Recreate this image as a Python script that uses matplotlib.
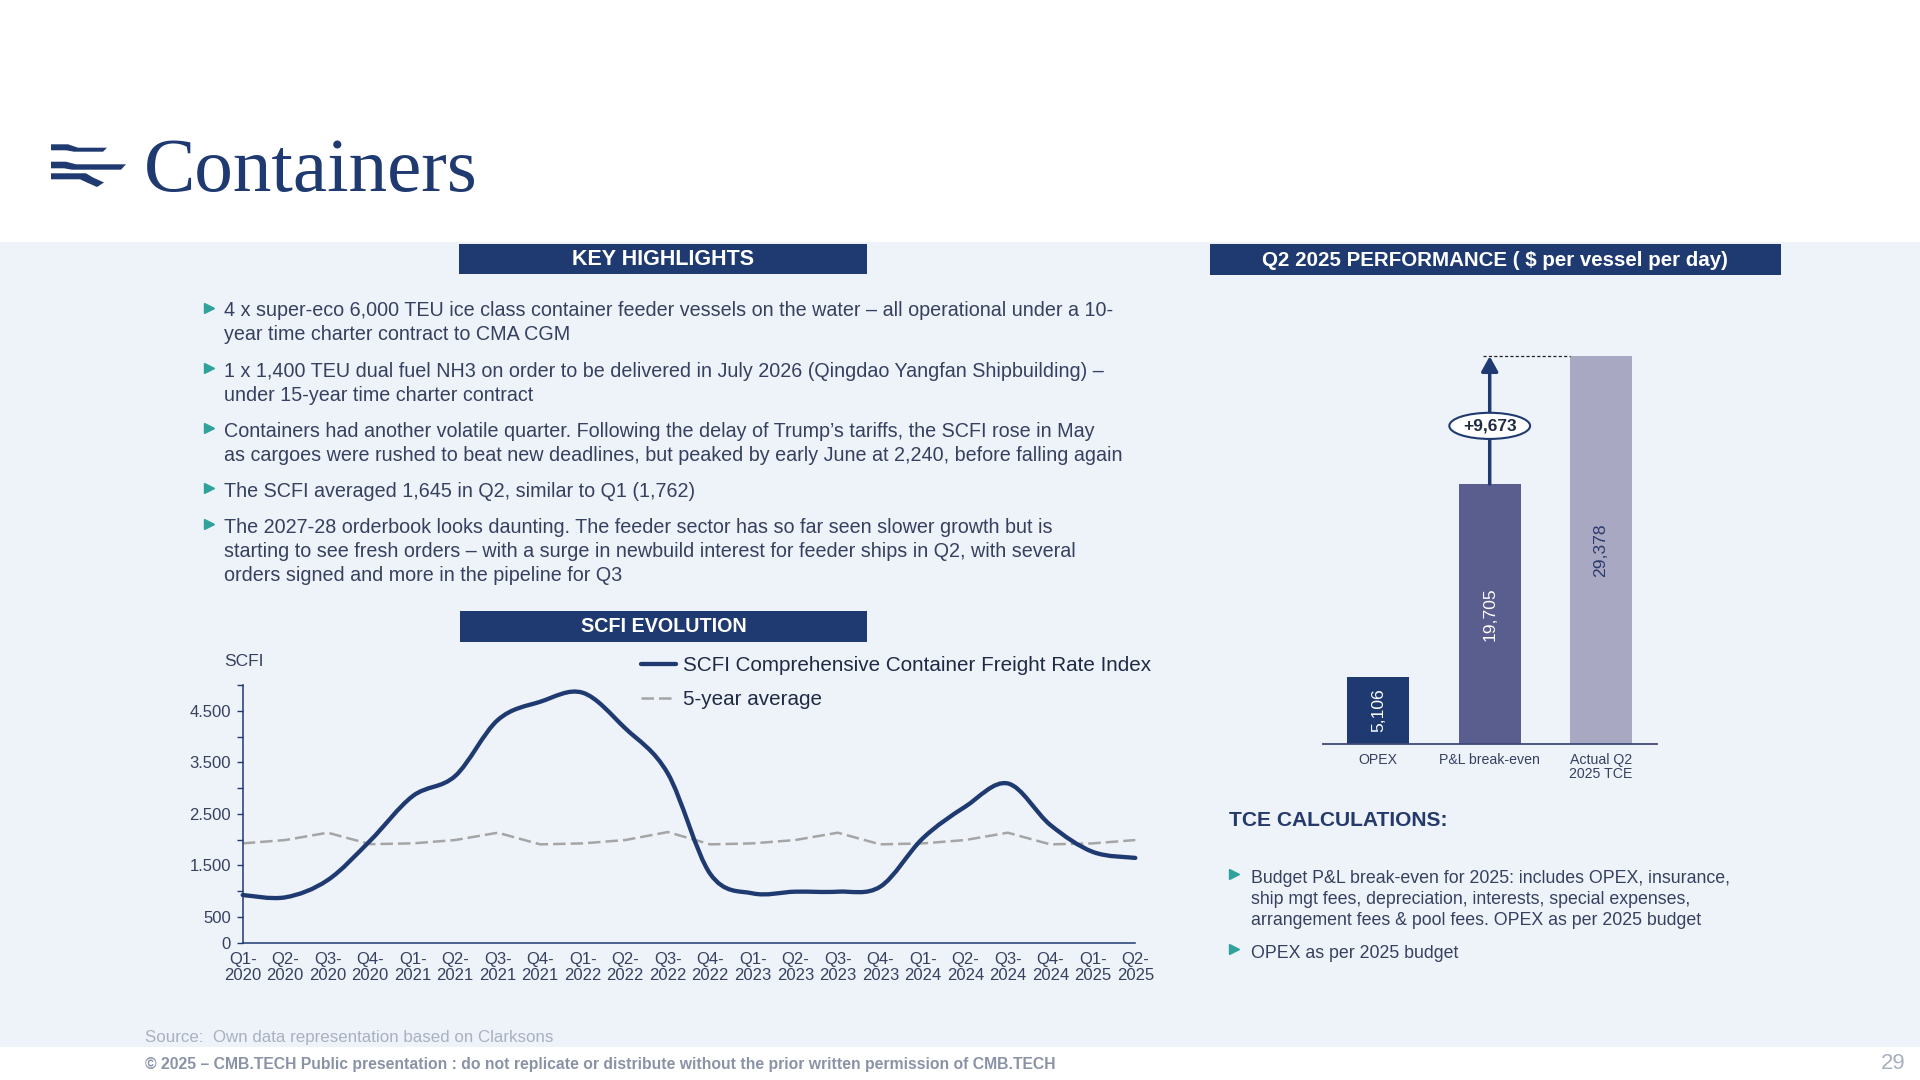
import matplotlib
matplotlib.use("Agg")
import matplotlib.pyplot as plt
from matplotlib.patches import Rectangle, Polygon, PathPatch
from matplotlib.path import Path
from matplotlib.lines import Line2D

plt.rcParams['font.family'] = ['Liberation Sans', 'DejaVu Sans']

# ---------------- data ----------------
quarter_labels = ["Q1-\n2020", "Q2-\n2020", "Q3-\n2020", "Q4-\n2020",
                  "Q1-\n2021", "Q2-\n2021", "Q3-\n2021", "Q4-\n2021",
                  "Q1-\n2022", "Q2-\n2022", "Q3-\n2022", "Q4-\n2022",
                  "Q1-\n2023", "Q2-\n2023", "Q3-\n2023", "Q4-\n2023",
                  "Q1-\n2024", "Q2-\n2024", "Q3-\n2024", "Q4-\n2024",
                  "Q1-\n2025", "Q2-\n2025"]
scfi_index = [925, 880, 1215, 1980, 2845, 3235, 4320, 4675, 4850, 4160, 3285,
              1335, 957, 990, 990, 1087, 2025, 2640, 3090, 2285, 1762, 1645]
five_year_avg = [1927, 1992, 2134, 1912, 1927, 1992, 2134, 1908, 1927, 1992, 2147,
                 1908, 1927, 1992, 2134, 1908, 1927, 1992, 2134, 1908, 1927, 1992]
scfi_ticks = [0, 500, 1000, 1500, 2000, 2500, 3000, 3500, 4000, 4500, 5000]
scfi_labelled_ticks = [0, 500, 1500, 2500, 3500, 4500]
series_names = ["SCFI Comprehensive Container Freight Rate Index", "5-year average"]

perf_categories = ["OPEX", "P&L break-even", "Actual Q2\n2025 TCE"]
perf_values = [5106, 19705, 29378]
perf_value_labels = ["5,106", "19,705", "29,378"]
perf_delta_label = "+9,673"

highlights = [
    ["4 x super-eco 6,000 TEU ice class container feeder vessels on the water \u2013 all operational under a 10-",
     "year time charter contract to CMA CGM"],
    ["1 x 1,400 TEU dual fuel NH3 on order to be delivered in July 2026 (Qingdao Yangfan Shipbuilding) \u2013",
     "under 15-year time charter contract"],
    ["Containers had another volatile quarter. Following the delay of Trump\u2019s tariffs, the SCFI rose in May",
     "as cargoes were rushed to beat new deadlines, but peaked by early June at 2,240, before falling again"],
    ["The SCFI averaged 1,645 in Q2, similar to Q1 (1,762)"],
    ["The 2027-28 orderbook looks daunting. The feeder sector has so far seen slower growth but is",
     "starting to see fresh orders \u2013 with a surge in newbuild interest for feeder ships in Q2, with several",
     "orders signed and more in the pipeline for Q3"],
]
tce_notes = [
    ["Budget P&L break-even for 2025: includes OPEX, insurance,",
     "ship mgt fees, depreciation, interests, special expenses,",
     "arrangement fees & pool fees. OPEX as per 2025 budget"],
    ["OPEX as per 2025 budget"],
]

# ---------------- style ----------------
NAVY = '#1F3A70'
LIGHT = '#EEF2F9'
TEAL = '#2FA39B'
TEXT = '#36415F'
DARK = '#1F2A44'
BAR_COLORS = ['#1F3A70', '#5A5E8E', '#A9A8C3']
LABEL_COLORS = ['white', 'white', '#2B3A6B']
DASH = '#A5A5A5'

W, H = 1920, 1080
fig = plt.figure(figsize=(19.2, 10.8), dpi=100)
fig.patch.set_facecolor('white')
bg = fig.add_axes([0, 0, 1, 1])
bg.set_xlim(0, W)
bg.set_ylim(H, 0)
bg.axis('off')

bg.add_patch(Rectangle((0, 242), W, 805, color=LIGHT, zorder=0, lw=0))

# logo + title
logo = [
    [(51, 144.3), (68, 144.3), (78, 147.7), (107, 147.7), (103, 151.7), (74, 151.7), (66, 150.3), (51, 150.3)],
    [(51, 161.7), (66, 161.7), (76, 164.3), (126, 164.3), (121, 169.7), (72, 169.7), (64, 168.3), (51, 168.3)],
    [(51, 173.3), (86, 173.3), (93, 177.5), (104, 182.5), (97, 187), (88, 183), (80, 179.3), (51, 179.3)],
]
for poly in logo:
    bg.add_patch(Polygon(poly, closed=True, color=NAVY, lw=0))
bg.text(144, 191, "Containers", family=['Liberation Serif', 'DejaVu Serif'], fontsize=55.5,
        color=NAVY, ha='left', va='baseline')


def header(x0, x1, y0, y1, text, size):
    bg.add_patch(Rectangle((x0, y0), x1 - x0, y1 - y0, color=NAVY, lw=0))
    bg.text((x0 + x1) / 2, (y0 + y1) / 2 + 1, text, color='white', fontweight='bold',
            fontsize=size, ha='center', va='center')


header(459, 867, 244, 273.5, "KEY HIGHLIGHTS", 15.5)
header(1209.5, 1780.5, 243.5, 274.5, "Q2 2025 PERFORMANCE ( $ per vessel per day)", 14.8)
header(460, 867, 610.5, 641.5, "SCFI EVOLUTION", 14.2)


def bullets(paragraphs, x_text, x_bullet, baselines, size):
    k = 0
    for para in paragraphs:
        for j, line in enumerate(para):
            yb = baselines[k]
            if j == 0:
                bg.plot([x_bullet], [yb - 9], marker='>', ms=6.5, color=TEAL, mec=TEAL)
            bg.text(x_text, yb, line, fontsize=size, color=TEXT, ha='left', va='baseline')
            k += 1


bullets(highlights, 224, 209, [316.5, 340.5, 377, 401, 437, 461, 497, 533, 557, 581], 14.25)

bg.text(1229, 826, "TCE CALCULATIONS:", fontsize=15.1, fontweight='bold', color='#243A6B',
        ha='left', va='baseline')
bullets(tce_notes, 1251, 1234, [882.7, 904, 925, 958.3], 12.8)

bg.text(145, 1042, "Source:  Own data representation based on Clarksons", fontsize=12.2,
        color='#A9B0C0', ha='left', va='baseline')
bg.text(145, 1069, "\u00a9 2025 \u2013 CMB.TECH Public presentation : do not replicate or distribute without "
        "the prior written permission of CMB.TECH", fontsize=11.3, fontweight='bold',
        color='#8A93A6', ha='left', va='baseline')
bg.text(1905, 1069, "29", fontsize=16, color='#A9B0C0', ha='right', va='baseline')


def fig_rect(x0, x1, ytop, ybot):
    return [x0 / W, 1 - ybot / H, (x1 - x0) / W, (ybot - ytop) / H]


# ---------------- SCFI line chart ----------------
ax = fig.add_axes(fig_rect(242.7, 1135.3, 685, 942.7))
ax.patch.set_alpha(0)
xs = list(range(len(quarter_labels)))
ax.set_xlim(0, len(quarter_labels) - 1)
ax.set_ylim(0, 5000)


def smooth_path(x, y):
    pts = list(zip(x, y))
    n = len(pts)
    verts = [pts[0]]
    codes = [Path.MOVETO]
    for i in range(n - 1):
        p0 = pts[i - 1] if i > 0 else pts[i]
        p1 = pts[i]
        p2 = pts[i + 1]
        p3 = pts[i + 2] if i + 2 < n else pts[i + 1]
        c1 = (p1[0] + (p2[0] - p0[0]) / 6, p1[1] + (p2[1] - p0[1]) / 6)
        c2 = (p2[0] - (p3[0] - p1[0]) / 6, p2[1] - (p3[1] - p1[1]) / 6)
        verts += [c1, c2, p2]
        codes += [Path.CURVE4] * 3
    return Path(verts, codes)


ax.plot(xs, five_year_avg, color=DASH, lw=1.8, dashes=(5, 2), zorder=2, clip_on=False)
ax.add_patch(PathPatch(smooth_path(xs, scfi_index), fill=False, edgecolor=NAVY, lw=3.1,
                       capstyle='round', joinstyle='round', zorder=3, clip_on=False))

for s in ['top', 'right']:
    ax.spines[s].set_visible(False)
for s in ['left', 'bottom']:
    ax.spines[s].set_color(NAVY)
    ax.spines[s].set_linewidth(1.1)
ax.set_yticks(scfi_ticks)
ax.set_yticklabels([f"{v:,}".replace(',', '.') if v in scfi_labelled_ticks else '' for v in scfi_ticks])
ax.set_xticks(xs)
ax.set_xticklabels(quarter_labels)
ax.tick_params(axis='y', direction='out', length=4.5, width=1, color=NAVY, labelsize=12,
               labelcolor=TEXT, pad=4)
ax.tick_params(axis='x', length=0, labelsize=12, labelcolor=TEXT, pad=7)
for lbl in ax.get_xticklabels():
    lbl.set_linespacing(1.05)

bg.text(243.5, 666, "SCFI", fontsize=12.5, color=TEXT, ha='center', va='baseline')

handles = [Line2D([], [], color=NAVY, lw=3.1, solid_capstyle='round'),
           Line2D([], [], color=DASH, lw=1.8, dashes=(5, 2))]
ax.legend(handles, series_names, loc='upper left', bbox_to_anchor=(641 / W, 1 - 656 / H),
          bbox_transform=fig.transFigure, frameon=False, fontsize=14.9, labelcolor=DARK,
          handlelength=1.7, handletextpad=0.35, labelspacing=0.72, borderpad=0, borderaxespad=0)

# ---------------- performance bar chart ----------------
bx = fig.add_axes(fig_rect(1322.7, 1656.7, 348, 744.3))
bx.patch.set_alpha(0)
pos = list(range(len(perf_categories)))
bx.bar(pos, perf_values, width=0.555, color=BAR_COLORS, zorder=2)
bx.set_xlim(-0.5, len(perf_categories) - 0.5)
bx.set_ylim(0, 30000)
for s in ['top', 'right', 'left']:
    bx.spines[s].set_visible(False)
bx.spines['bottom'].set_color('#3F4A78')
bx.spines['bottom'].set_linewidth(1.3)
bx.set_yticks([])
bx.set_xticks(pos)
bx.set_xticklabels(perf_categories)
bx.tick_params(axis='x', length=0, labelsize=10.2, labelcolor=TEXT, pad=6)
for lbl in bx.get_xticklabels():
    lbl.set_linespacing(1.05)
for p, v, t, c in zip(pos, perf_values, perf_value_labels, LABEL_COLORS):
    bx.text(p, v / 2, t, rotation=90, ha='center', va='center', fontsize=12.6, color=c, zorder=3)

# arrow from break-even to actual TCE
bx.annotate('', xy=(pos[1], perf_values[2]), xytext=(pos[1], perf_values[1]),
            arrowprops=dict(arrowstyle='-|>,head_length=0.45,head_width=0.25', color=NAVY,
                            lw=2.5, mutation_scale=20, shrinkA=0, shrinkB=0), zorder=4)
bx.plot([pos[1] - 0.06, pos[2] - 0.2775], [perf_values[2], perf_values[2]], color='#222222',
        lw=0.9, dashes=(2.5, 1.8), zorder=3)
bx.text(pos[1], perf_values[1] + 0.455 * (perf_values[2] - perf_values[1]), perf_delta_label,
        ha='center', va='center', fontsize=12.5, fontweight='bold', color=DARK, zorder=5,
        bbox=dict(boxstyle='ellipse,pad=0.1', fc='white', ec=NAVY, lw=1.5))

fig.savefig('out.png', dpi=100, facecolor='white')
